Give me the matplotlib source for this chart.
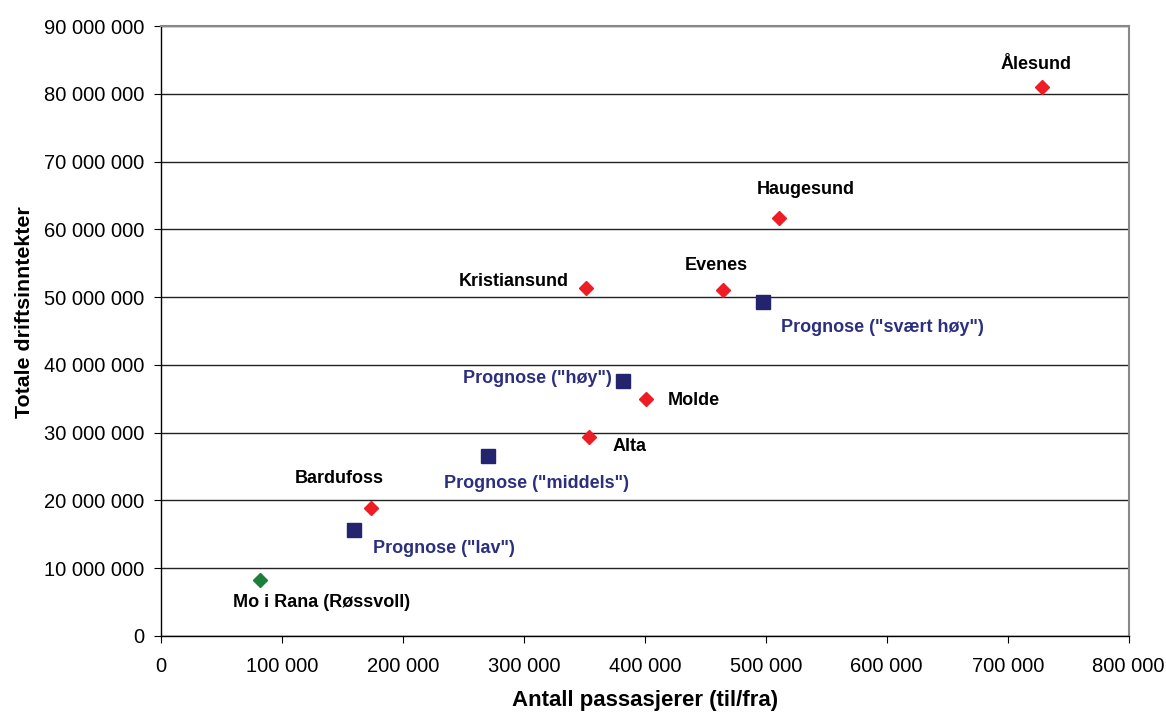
import numpy as np
import matplotlib.pyplot as plt
from matplotlib.ticker import FuncFormatter, MultipleLocator

plt.rcParams['font.family'] = ['Liberation Sans', 'DejaVu Sans']

# airports (red diamonds)
airports = ["Ålesund", "Haugesund", "Evenes", "Kristiansund", "Molde", "Alta", "Bardufoss"]
airport_pax = [728000, 511000, 465000, 351000, 401000, 354000, 174000]
airport_inc = [81000000, 61700000, 51100000, 51300000, 35000000, 29400000, 18900000]

# Mo i Rana (green)
mo_label = "Mo i Rana (Røssvoll)"
mo_pax = [82000]
mo_inc = [8300000]

# forecasts (navy squares)
prognoses = ['Prognose ("lav")', 'Prognose ("middels")', 'Prognose ("høy")', 'Prognose ("svært høy")']
prog_pax = [160000, 270000, 382000, 498000]
prog_inc = [15700000, 26600000, 37600000, 49300000]

red = "#ee1c25"
navy = "#23236e"
green = "#1b7f3a"

fig = plt.figure(figsize=(11.66, 7.15), dpi=100)
ax = fig.add_axes([0.138, 0.1105, 0.830, 0.8531])

ax.set_xlim(0, 800000)
ax.set_ylim(0, 90000000)
ax.xaxis.set_major_locator(MultipleLocator(100000))
ax.yaxis.set_major_locator(MultipleLocator(10000000))
fmt = FuncFormatter(lambda v, p: "{:,.0f}".format(v).replace(",", " "))
ax.xaxis.set_major_formatter(fmt)
ax.yaxis.set_major_formatter(fmt)
ax.grid(axis="y", color="#222222", lw=1)
ax.set_axisbelow(True)

ax.plot(airport_pax, airport_inc, "D", color=red, ms=7, mec=red, ls="none", zorder=3)
ax.plot(mo_pax, mo_inc, "D", color=green, ms=7, ls="none", zorder=3)
ax.plot(prog_pax, prog_inc, "s", color=navy, ms=10, ls="none", zorder=3)

# label offsets in pixels (dx, dy, ha)
airport_off = [(-6, 23, "center"), (27, 28, "center"), (-7, 24, "center"),
               (-17, 7, "right"), (22, -2, "left"), (23, -10, "left"), (-32, 29, "center")]
for name, x, y, (dx, dy, ha) in zip(airports, airport_pax, airport_inc, airport_off):
    ax.annotate(name, (x, y), xytext=(dx, dy), textcoords="offset pixels",
                ha=ha, va="center", fontsize=13, fontweight="bold", color="black")

ax.annotate(mo_label, (mo_pax[0], mo_inc[0]), xytext=(61, -23), textcoords="offset pixels",
            ha="center", va="center", fontsize=13, fontweight="bold", color="black")

prog_off = [(19, -19, "left"), (-44, -28, "left"), (-11, 3, "right"), (18, -26, "left")]
for name, x, y, (dx, dy, ha) in zip(prognoses, prog_pax, prog_inc, prog_off):
    ax.annotate(name, (x, y), xytext=(dx, dy), textcoords="offset pixels",
                ha=ha, va="center", fontsize=13, fontweight="bold", color="#2b2f7e")

for s in ["top", "right"]:
    ax.spines[s].set_color("#888888")
    ax.spines[s].set_linewidth(1.5)
for s in ["left", "bottom"]:
    ax.spines[s].set_color("black")
    ax.spines[s].set_linewidth(1)
ax.tick_params(direction="out", length=5, labelsize=14.5)
ax.tick_params(axis="x", pad=10)
ax.tick_params(axis="y", pad=7)

ax.set_xlabel("Antall passasjerer (til/fra)", fontsize=16, fontweight="bold")
ax.set_ylabel("Totale driftsinntekter", fontsize=15.4, fontweight="bold")
ax.xaxis.set_label_coords(0.5, -0.088)
ax.yaxis.set_label_coords(-0.131, 0.531)

fig.savefig("out.png", dpi=100)
